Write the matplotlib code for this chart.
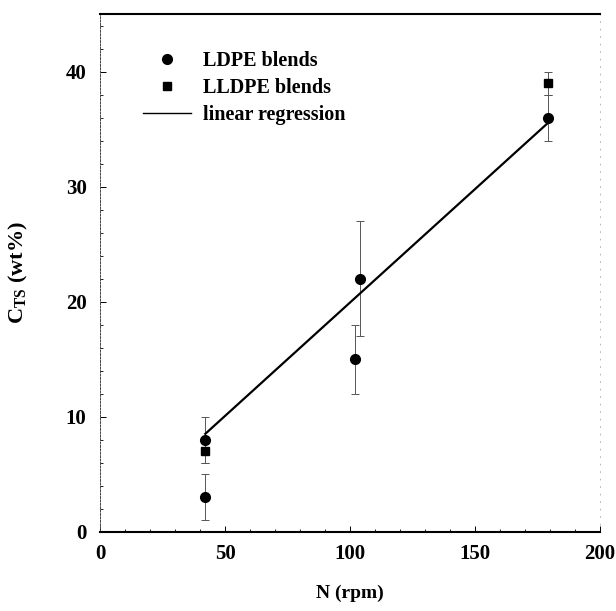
import matplotlib
matplotlib.use("Agg")
import matplotlib.pyplot as plt
from matplotlib.lines import Line2D
from matplotlib.ticker import MultipleLocator

# LDPE blends
ldpe_n = [42, 42, 102, 104, 179]
ldpe_c = [8, 3, 15, 22, 36]
ldpe_err = [2, 2, 3, 5, 2]

# LLDPE blends
lldpe_n = [42, 179]
lldpe_c = [7, 39]
lldpe_err = [1, 1]

# linear regression line (end points)
reg_n = [42, 179]
reg_c = [8.5, 35.5]

plt.rcParams['font.family'] = ['Liberation Serif', 'DejaVu Serif']
plt.rcParams['font.weight'] = 'bold'
plt.rcParams['mathtext.fontset'] = 'custom'
plt.rcParams['mathtext.rm'] = 'Liberation Serif:bold'
plt.rcParams['mathtext.it'] = 'Liberation Serif:bold'
plt.rcParams['mathtext.bf'] = 'Liberation Serif:bold'

fig = plt.figure(figsize=(6.16, 6.11), dpi=100)
ax = fig.add_axes([0.163, 0.130, 0.811, 0.847])

ax.errorbar(ldpe_n, ldpe_c, yerr=ldpe_err, fmt='o', color='black', ms=7,
            ecolor='#555555', elinewidth=0.7, capsize=3, capthick=0.7)
ax.errorbar(lldpe_n, lldpe_c, yerr=lldpe_err, fmt='s', color='black', ms=6,
            ecolor='#555555', elinewidth=0.7, capsize=3, capthick=0.7)
ax.plot(reg_n, reg_c, color='black', lw=1.6)

ax.set_xlim(0, 200)
ax.set_ylim(0, 45)
ax.set_xticks([0, 50, 100, 150, 200])
ax.set_yticks([0, 10, 20, 30, 40])
ax.xaxis.set_minor_locator(MultipleLocator(10))
ax.yaxis.set_minor_locator(MultipleLocator(2))
ax.tick_params(which='both', direction='in', top=False, right=False)
ax.tick_params(which='major', length=4, width=0.7, labelsize=15)
ax.tick_params(which='minor', length=2.5, width=0.6)
ax.tick_params(axis='y', pad=10)
ax.tick_params(axis='x', pad=9)

for side in ['top', 'bottom']:
    ax.spines[side].set_linewidth(1.5)
ax.spines['left'].set_linewidth(0.7)
ax.spines['left'].set_linestyle((0, (2, 1.5)))
ax.spines['left'].set_color('#444444')
ax.spines['right'].set_linewidth(0.6)
ax.spines['right'].set_linestyle((0, (1, 8)))
ax.spines['right'].set_color('#aaaaaa')

ax.set_xlabel('N (rpm)', fontsize=14, fontweight='bold', labelpad=15)
ax.set_ylabel(r'C$_{\mathrm{TS}}$ (wt%)', fontsize=16, fontweight='bold', labelpad=26)

handles = [
    Line2D([], [], marker='o', ls='none', color='black', ms=7),
    Line2D([], [], marker='s', ls='none', color='black', ms=6),
    Line2D([], [], color='black', lw=1.0),
]
labels = ['LDPE blends', 'LLDPE blends', 'linear regression']
ax.legend(handles, labels, loc='upper left', bbox_to_anchor=(0.085, 0.929),
          frameon=False, handlelength=2.4, handletextpad=0.6,
          labelspacing=0.36, borderpad=0, borderaxespad=0,
          prop={'weight': 'bold', 'size': 14.5})

fig.savefig('out.png', dpi=100)
